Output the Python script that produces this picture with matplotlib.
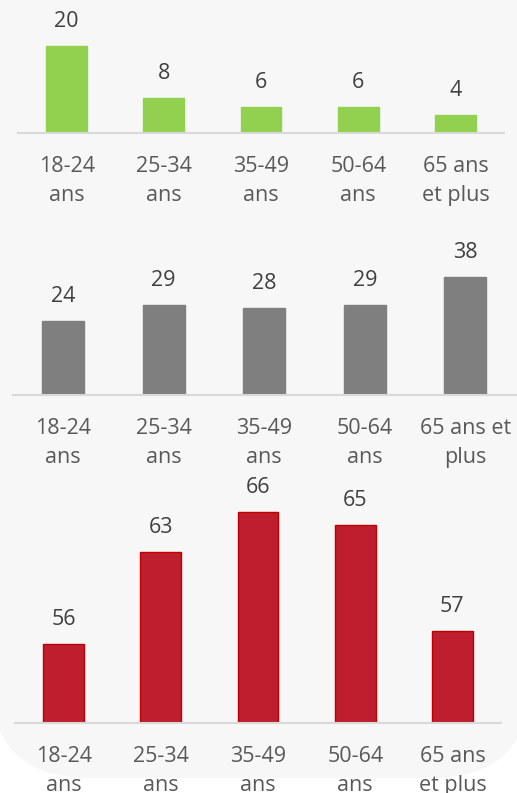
import matplotlib
matplotlib.use("Agg")
import matplotlib.pyplot as plt
import matplotlib.patches as mpatches
from matplotlib.transforms import IdentityTransform

plt.rcParams['font.family'] = ['Open Sans', 'DejaVu Sans']

# données
cats_1 = ['18-24\nans', '25-34\nans', '35-49\nans', '50-64\nans', '65 ans\net plus']
cats_2 = ['18-24\nans', '25-34\nans', '35-49\nans', '50-64\nans', '65 ans et\nplus']
cats_3 = ['18-24\nans', '25-34\nans', '35-49\nans', '50-64\nans', '65 ans\net plus']
vals_green = [20, 8, 6, 6, 4]
vals_gray = [24, 29, 28, 29, 38]
vals_red = [56, 63, 66, 65, 57]

W, H = 517, 793
fig = plt.figure(figsize=(W / 100, H / 100), dpi=100)
fig.patch.set_facecolor('white')

# fond gris arrondi
bg = mpatches.FancyBboxPatch((-10, H - 778), 541, 900,
                             boxstyle='round,pad=0,rounding_size=100',
                             transform=IdentityTransform(),
                             facecolor='#F7F7F7', edgecolor='none', zorder=-10)
fig.add_artist(bg)


def add_panel(left, right, top, base, ylo, yhi):
    # coordonnees en pixels depuis le haut
    ax = fig.add_axes([left / W, 1 - base / H, (right - left) / W, (base - top) / H])
    ax.set_facecolor('none')
    ax.set_xlim(-0.5, 4.5)
    ax.set_ylim(ylo, yhi)
    for s in ['top', 'left', 'right']:
        ax.spines[s].set_visible(False)
    ax.spines['bottom'].set_color('#D9D9D9')
    ax.spines['bottom'].set_linewidth(1.5)
    ax.set_yticks([])
    ax.tick_params(axis='x', length=0, pad=16.5, labelsize=15.5, labelcolor='#595959')
    return ax


panels = [
    (add_panel(18, 504, 0, 132.7, 0, 30.5), vals_green, cats_1, '#92D050', '#92D050'),
    (add_panel(13, 515.5, 240, 395, 0, 50), vals_gray, cats_2, '#7F7F7F', '#7F7F7F'),
    (add_panel(15, 501, 470, 722.7, 50, 69.2), vals_red, cats_3, '#BE1E2D', '#C00000'),
]

for ax, vals, cats, fc, ec in panels:
    x = list(range(len(vals)))
    ax.bar(x, [v - ax.get_ylim()[0] for v in vals], bottom=ax.get_ylim()[0],
           width=0.42, color=fc, edgecolor=ec, linewidth=1, zorder=2)
    ax.set_xticks(x)
    ax.set_xticklabels(cats, linespacing=1.5)
    for xi, v in zip(x, vals):
        ax.annotate(str(v), (xi, v), xytext=(0, 17.5), textcoords='offset points',
                    ha='center', va='center', fontsize=15.5, color='#404040',
                    annotation_clip=False)

plt.savefig('out.png', dpi=100)
